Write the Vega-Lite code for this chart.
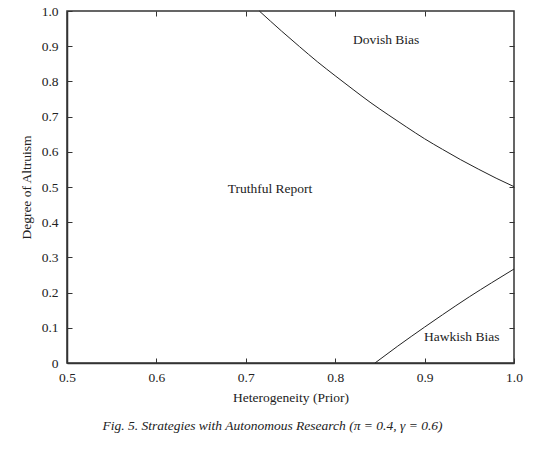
{
  "$schema": "https://vega.github.io/schema/vega-lite/v6.json",
  "width": 447,
  "height": 352,
  "autosize": "none",
  "padding": {"left": 67, "top": 11, "right": 40, "bottom": 87},
  "background": "white",
  "config": {
    "font": "Liberation Serif",
    "view": {"stroke": "#333", "strokeWidth": 1.5},
    "axis": {
      "grid": false,
      "domainColor": "#333",
      "domainWidth": 1.5,
      "tickColor": "#333",
      "tickSize": -5,
      "labelFlush": false,
      "labelFont": "Liberation Serif",
      "labelFontSize": 13.5,
      "labelColor": "#222",
      "titleFont": "Liberation Serif",
      "titleFontSize": 13.5,
      "titleFontWeight": "normal",
      "titleColor": "#222"
    },
    "text": {"font": "Liberation Serif"},
    "title": {"font": "Liberation Serif", "fontSize": 13.5, "fontWeight": "normal", "color": "#222"}
  },
  "title": {"text": "Fig. 5.   Strategies with Autonomous Research (π = 0.4, γ = 0.6)", "orient": "bottom", "offset": 15, "dx": -18, "fontStyle": "italic", "font": "Liberation Serif"},
  "datasets": {
    "curves": [
      {"series": "dovish", "h": 0.7151, "a": 1.0},
      {"series": "dovish", "h": 0.74, "a": 0.943},
      {"series": "dovish", "h": 0.76, "a": 0.899},
      {"series": "dovish", "h": 0.78, "a": 0.856},
      {"series": "dovish", "h": 0.80, "a": 0.816},
      {"series": "dovish", "h": 0.82, "a": 0.777},
      {"series": "dovish", "h": 0.84, "a": 0.739},
      {"series": "dovish", "h": 0.86, "a": 0.704},
      {"series": "dovish", "h": 0.88, "a": 0.670},
      {"series": "dovish", "h": 0.90, "a": 0.637},
      {"series": "dovish", "h": 0.92, "a": 0.607},
      {"series": "dovish", "h": 0.94, "a": 0.578},
      {"series": "dovish", "h": 0.96, "a": 0.551},
      {"series": "dovish", "h": 0.98, "a": 0.525},
      {"series": "dovish", "h": 1.0, "a": 0.501},
      {"series": "hawkish", "h": 0.8445, "a": 0.0},
      {"series": "hawkish", "h": 0.87, "a": 0.048},
      {"series": "hawkish", "h": 0.90, "a": 0.102},
      {"series": "hawkish", "h": 0.92, "a": 0.137},
      {"series": "hawkish", "h": 0.95, "a": 0.188},
      {"series": "hawkish", "h": 0.975, "a": 0.228},
      {"series": "hawkish", "h": 1.0, "a": 0.267}
    ],
    "labels": [
      {"label": "Dovish Bias", "h": 0.857, "a": 0.917},
      {"label": "Truthful Report", "h": 0.727, "a": 0.494},
      {"label": "Hawkish Bias", "h": 0.9415, "a": 0.075}
    ]
  },
  "layer": [
    {
      "data": {"name": "curves"},
      "mark": {"type": "line", "color": "#222", "strokeWidth": 1, "interpolate": "monotone"},
      "encoding": {
        "x": {"field": "h", "type": "quantitative", "scale": {"domain": [0.5, 1.0], "nice": false, "zero": false},
              "axis": {"title": "Heterogeneity (Prior)", "values": [0.5, 0.6, 0.7, 0.8, 0.9, 1.0], "format": ".1f", "labelPadding": 12, "titlePadding": 7, "labelFont": "Liberation Serif", "titleFont": "Liberation Serif", "labelFlush": false}},
        "y": {"field": "a", "type": "quantitative", "scale": {"domain": [0, 1], "nice": false},
              "axis": {"title": "Degree of Altruism", "values": [0, 0.1, 0.2, 0.3, 0.4, 0.5, 0.6, 0.7, 0.8, 0.9, 1.0], "labelExpr": "datum.value == 0 ? '0' : format(datum.value, '.1f')", "labelPadding": 14, "titlePadding": 8, "labelFont": "Liberation Serif", "titleFont": "Liberation Serif", "labelFlush": false}},
        "detail": {"field": "series"}
      }
    },
    {
      "data": {"name": "labels"},
      "mark": {"type": "text", "fontSize": 13.5, "color": "#222", "font": "Liberation Serif"},
      "encoding": {
        "x": {"field": "h", "type": "quantitative", "axis": {"orient": "top", "labels": false, "title": null, "values": [0.6, 0.7, 0.8, 0.9], "domain": false}},
        "y": {"field": "a", "type": "quantitative", "axis": {"orient": "right", "labels": false, "title": null, "values": [0.1, 0.2, 0.3, 0.4, 0.5, 0.6, 0.7, 0.8, 0.9], "domain": false}},
        "text": {"field": "label"}
      }
    }
  ],
  "resolve": {"axis": {"x": "independent", "y": "independent"}}
}
